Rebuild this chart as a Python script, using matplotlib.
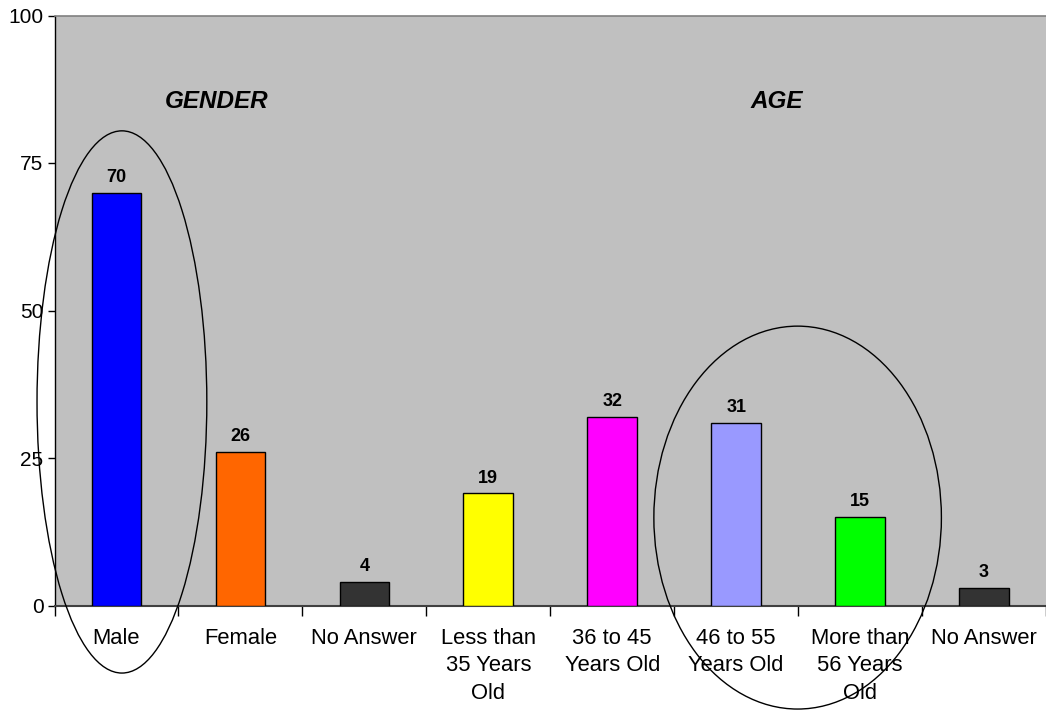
import matplotlib
matplotlib.use("Agg")
import matplotlib.pyplot as plt
from matplotlib.patches import Ellipse
from matplotlib.ticker import FixedLocator

plt.rcParams['font.family'] = ['Liberation Sans', 'DejaVu Sans']

categories = ["Male", "Female", "No Answer", "Less than\n35 Years\nOld",
              "36 to 45\nYears Old", "46 to 55\nYears Old",
              "More than\n56 Years\nOld", "No Answer"]
values = [70, 26, 4, 19, 32, 31, 15, 3]
bar_colors = ["#0000FF", "#FF6600", "#333333", "#FFFF00",
              "#FF00FF", "#9999FF", "#00FF00", "#333333"]
yticks = [0, 25, 50, 75, 100]
group_titles = ["GENDER", "AGE"]

fig = plt.figure(figsize=(10.46, 7.11), dpi=100)
ax = fig.add_axes([54.5/1046, 105.5/711, 1 - 54.5/1046, 590/711])
ax.set_facecolor("#C0C0C0")

x = list(range(len(categories)))
ax.bar(x, values, width=0.4, color=bar_colors, edgecolor="black", linewidth=1.0, zorder=3)
for xi, v in zip(x, values):
    ax.annotate(str(v), (xi, v), xytext=(0, 7.7), textcoords="offset points",
                ha="center", va="baseline", fontsize=13, fontweight="bold", zorder=4)

ax.set_xlim(-0.5, len(categories) - 0.5)
ax.set_ylim(0, 100)

# category labels at centers, tick marks at boundaries
ax.set_xticks(x)
ax.set_xticklabels(categories, fontsize=15.8, linespacing=1.4)
ax.tick_params(axis="x", which="major", length=0, pad=16)
ax.xaxis.set_minor_locator(FixedLocator([i - 0.5 for i in range(len(categories) + 1)]))
ax.tick_params(axis="x", which="minor", length=7, width=1, color="black", direction="out")

ax.set_yticks(yticks)
ax.set_yticklabels([str(t) for t in yticks], fontsize=15)
ax.tick_params(axis="y", length=5, width=1, color="black", pad=3)

for s in ["right"]:
    ax.spines[s].set_visible(False)
ax.spines["top"].set_color("#808080")
ax.spines["top"].set_linewidth(1.2)
ax.spines["left"].set_color("black")
ax.spines["left"].set_linewidth(1.0)
ax.spines["bottom"].set_color("#404040")
ax.spines["bottom"].set_linewidth(1.5)

ax.text(0.805, 85.5, group_titles[0], ha="center", va="center",
        fontsize=17.5, fontweight="bold", fontstyle="italic")
ax.text(5.327, 85.5, group_titles[1], ha="center", va="center",
        fontsize=17.5, fontweight="bold", fontstyle="italic")

e1 = Ellipse((0.044, 34.5), 1.37, 91.9, fill=False, edgecolor="black", linewidth=1.0,
             clip_on=False, zorder=5)
e2 = Ellipse((5.496, 14.9), 2.32, 64.9, fill=False, edgecolor="black", linewidth=1.0,
             clip_on=False, zorder=5)
ax.add_patch(e1)
ax.add_patch(e2)

fig.savefig("out.png", dpi=100)
